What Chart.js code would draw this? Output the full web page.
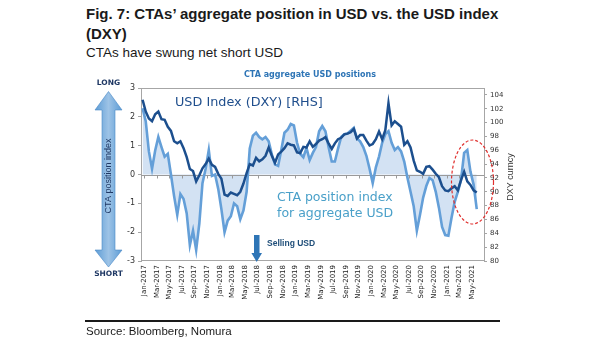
<!DOCTYPE html>
<html>
<head>
<meta charset="utf-8">
<script src="https://cdn.jsdelivr.net/npm/chart.js@4.4.0/dist/chart.umd.min.js"></script>
<style>
  body { margin: 0; background: #fff; width: 605px; height: 341px; overflow: hidden; position: relative; font-family: "Liberation Sans", Arial, sans-serif; color: #1a1a1a; }
  #myChart { position: absolute; left: 0; top: 0; }
  .fig-title { position: absolute; left: 86px; top: 4px; font-weight: bold; font-size: 15px; line-height: 20px; }
  .fig-sub { position: absolute; left: 86px; top: 45px; font-size: 13.5px; }
  .rule { position: absolute; left: 85px; top: 320px; width: 415px; height: 2px; background: #1a1a1a; }
  .source { position: absolute; left: 86px; top: 325px; font-size: 11.5px; }
</style>
</head>
<body>
<div class="fig-title">Fig. 7: CTAs’ aggregate position in USD vs. the USD index<br>(DXY)</div>
<div class="fig-sub">CTAs have swung net short USD</div>
<canvas id="myChart" width="605" height="341"></canvas>
<div class="rule"></div>
<div class="source">Source: Bloomberg, Nomura</div>
<script>
// x = months since Jan-2017, one point every half month
const startMonth = -0.25;
const stepMonth = 0.5;

// CTA position index for aggregate USD (left axis)
const ctaPos = [
  2.3, 1.85, 0.8, 0.2, 0.83, 1.3, 0.95, 0.62, 0.72, 0.0,
  -0.75, -1.4, -0.68, -0.85, -1.35, -2.45, -1.95, -2.62, -1.7, -0.3,
  0.2, 0.85, -0.05, 0.0, -0.5, -1.2, -2.0, -1.6, -1.45, -1.0,
  -1.1, -1.55, -1.25, -0.6, 0.9, 1.35, 1.45, 1.3, 1.22, 1.3,
  1.15, 0.7, 0.35, 0.3, 0.85, 1.45, 1.55, 1.75, 1.7, 1.1,
  0.72, 0.6, 0.92, 0.5, 0.75, 0.95, 1.5, 1.68, 1.5, 0.95,
  0.45, 0.45, 0.9, 1.3, 1.4, 1.42, 1.52, 1.62, 1.25, 1.15,
  0.95, 0.65, 0.2, -0.3, 0.25, 0.62, 1.1, 1.4, 1.5, 1.1,
  0.85, 0.95, 0.8, 0.45, -0.1, -0.6, -1.1, -1.95, -1.4, -0.8,
  -0.4, -0.12, -0.2, -0.6, -1.15, -1.82, -2.1, -2.12, -1.5, -0.95,
  -0.6, -0.2, 0.75, 0.85, 0.1, -0.35, -1.2
];

// USD index DXY (right axis)
const dxy = [
  103.3, 101.6, 100.6, 100.2, 101.2, 101.6, 100.5, 100.4, 99.4, 98.8,
  97.3, 97.0, 97.3, 96.3, 95.0, 93.3, 93.0, 91.5, 92.4, 93.4,
  94.0, 94.8, 93.9, 93.6, 92.6, 91.9, 89.6, 89.4, 89.9, 89.7,
  89.5, 90.0, 91.2, 92.7, 94.0, 93.8, 94.9, 94.4, 94.7, 95.2,
  96.4, 95.2, 94.2, 95.4, 95.8, 96.3, 97.0, 96.8, 96.7, 95.7,
  95.6, 96.5, 96.4, 97.3, 96.5, 96.9, 97.4, 97.6, 97.9, 97.0,
  96.2, 97.0, 97.6, 97.8, 98.3, 98.4, 98.6, 99.1, 97.7, 98.2,
  98.2, 97.4, 96.7, 96.9, 97.6, 98.7, 97.6, 98.9, 102.8, 99.6,
  100.2, 99.8, 99.4, 96.8, 97.3, 96.4, 94.5, 93.1, 92.9, 92.6,
  93.6, 93.7, 93.2, 92.6, 92.1, 90.8, 90.2, 90.1, 90.5, 90.8,
  90.2, 91.7, 92.9, 91.5, 91.0, 90.2, 89.9
];

const tickMonths = [0, 2, 4, 6, 8, 10, 12, 14, 16, 18, 20, 22, 24, 26, 28, 30, 32, 34, 36, 38, 40, 42, 44, 46, 48, 50, 52];
const tickLabels = [
  "Jan-2017", "Mar-2017", "May-2017", "Jul-2017", "Sep-2017", "Nov-2017",
  "Jan-2018", "Mar-2018", "May-2018", "Jul-2018", "Sep-2018", "Nov-2018",
  "Jan-2019", "Mar-2019", "May-2019", "Jul-2019", "Sep-2019", "Nov-2019",
  "Jan-2020", "Mar-2020", "May-2020", "Jul-2020", "Sep-2020", "Nov-2020",
  "Jan-2021", "Mar-2021", "May-2021"
];
const leftTicks = [-3, -2, -1, 0, 1, 2, 3];
const rightTicks = [80, 82, 84, 86, 88, 90, 92, 94, 96, 98, 100, 102, 104];

const months = ctaPos.map((v, i) => startMonth + i * stepMonth);

// extra drawing: plot box, zero line, arrows, notes
const decor = {
  id: "decor",
  beforeDatasetsDraw(chart) {
    const ctx = chart.ctx;
    const a = chart.chartArea;
    ctx.save();
    ctx.strokeStyle = "#a6a6a6";
    ctx.lineWidth = 1;
    ctx.beginPath();
    ctx.moveTo(a.left, a.top + 0.5);
    ctx.lineTo(a.right, a.top + 0.5);
    ctx.moveTo(a.left, a.bottom - 0.5);
    ctx.lineTo(a.right, a.bottom - 0.5);
    ctx.stroke();
    ctx.restore();
  },
  beforeDatasetDraw(chart, args) {
    if (args.index !== 1) return;
    // zero line goes over the fill, under the lines
    const ctx = chart.ctx;
    const a = chart.chartArea;
    const y0 = Math.round(chart.scales.y.getPixelForValue(0)) + 0.5;
    ctx.save();
    ctx.strokeStyle = "#9a9a9a";
    ctx.lineWidth = 1;
    ctx.beginPath();
    ctx.moveTo(a.left, y0);
    ctx.lineTo(a.right, y0);
    tickMonths.forEach((m) => {
      const x = Math.round(chart.scales.x.getPixelForValue(m)) + 0.5;
      ctx.moveTo(x, y0);
      ctx.lineTo(x, y0 + 3);
    });
    ctx.stroke();
    ctx.restore();
  },
  afterDraw(chart) {
    const ctx = chart.ctx;
    ctx.save();

    // chart title
    ctx.fillStyle = "#2e75b6";
    ctx.font = "bold 8px 'DejaVu Sans'";
    ctx.textAlign = "center";
    ctx.textBaseline = "middle";
    ctx.fillText("CTA aggregate USD positions", 310, 75);

    // LONG / SHORT arrow on the left
    const cx = 108.5;
    const g = ctx.createLinearGradient(cx - 14, 0, cx + 14, 0);
    g.addColorStop(0, "#5b9bd5");
    g.addColorStop(0.5, "#9dc3e6");
    g.addColorStop(1, "#5b9bd5");
    ctx.fillStyle = g;
    ctx.beginPath();
    ctx.moveTo(cx, 91.5);
    ctx.lineTo(cx + 13.5, 110);
    ctx.lineTo(cx + 6.5, 110);
    ctx.lineTo(cx + 6.5, 250);
    ctx.lineTo(cx + 13.5, 250);
    ctx.lineTo(cx, 267);
    ctx.lineTo(cx - 13.5, 250);
    ctx.lineTo(cx - 6.5, 250);
    ctx.lineTo(cx - 6.5, 110);
    ctx.lineTo(cx - 13.5, 110);
    ctx.closePath();
    ctx.fill();
    ctx.strokeStyle = "#4a89c8";
    ctx.lineWidth = 0.6;
    ctx.stroke();

    ctx.fillStyle = "#1f3864";
    ctx.font = "bold 7.5px 'DejaVu Sans'";
    ctx.fillText("LONG", cx, 83);
    ctx.fillText("SHORT", cx, 274);

    ctx.save();
    ctx.translate(cx, 176);
    ctx.rotate(-Math.PI / 2);
    ctx.font = "9px 'Liberation Sans'";
    ctx.fillText("CTA position index", 0, 0);
    ctx.restore();

    // right axis title
    ctx.save();
    ctx.translate(511, 177);
    ctx.rotate(-Math.PI / 2);
    ctx.fillStyle = "#333";
    ctx.font = "9px 'Liberation Sans'";
    ctx.fillText("DXY curncy", 0, 0);
    ctx.restore();

    // series notes
    ctx.textAlign = "left";
    ctx.textBaseline = "alphabetic";
    ctx.fillStyle = "#1f4e8c";
    ctx.font = "12.8px 'DejaVu Sans'";
    ctx.fillText("USD Index (DXY) [RHS]", 175, 106);
    ctx.fillStyle = "#4aa0c9";
    ctx.font = "12.5px 'DejaVu Sans'";
    ctx.fillText("CTA position index", 277, 201);
    ctx.fillText("for aggregate USD", 277, 217);

    // selling USD arrow
    ctx.fillStyle = "#2e75b6";
    ctx.beginPath();
    ctx.moveTo(254, 235);
    ctx.lineTo(259.5, 235);
    ctx.lineTo(259.5, 253);
    ctx.lineTo(262, 253);
    ctx.lineTo(256.7, 262);
    ctx.lineTo(251.4, 253);
    ctx.lineTo(254, 253);
    ctx.closePath();
    ctx.fill();
    ctx.fillStyle = "#1f4e79";
    ctx.font = "bold 8.5px 'Liberation Sans'";
    ctx.textBaseline = "middle";
    ctx.fillText("Selling USD", 267, 244);

    // red dashed ellipse
    ctx.strokeStyle = "#e0302e";
    ctx.lineWidth = 1.2;
    ctx.setLineDash([3, 2]);
    ctx.beginPath();
    ctx.ellipse(472.5, 182, 21, 42, 0, 0, Math.PI * 2);
    ctx.stroke();
    ctx.restore();
  }
};

const config = {
  type: "line",
  data: {
    datasets: [
      {
        label: "USD Index (DXY) [RHS]",
        data: months.map((m, i) => ({ x: m, y: dxy[i] })),
        yAxisID: "y2",
        borderColor: "#1c4f8e",
        borderWidth: 2.5,
        pointRadius: 0,
        tension: 0,
        fill: false,
        order: 0,
      },
      {
        label: "CTA position index for aggregate USD",
        data: months.map((m, i) => ({ x: m, y: ctaPos[i] })),
        yAxisID: "y",
        borderColor: "#649fd8",
        borderWidth: 2.6,
        backgroundColor: "#d3e2f3",
        pointRadius: 0,
        tension: 0,
        fill: { value: 0 },
        order: 1,
      },
    ],
  },
  options: {
    responsive: false,
    animation: false,
    devicePixelRatio: 1,
    layout: { padding: { left: 115, right: 91, top: 88, bottom: 40 } },
    plugins: { legend: { display: false }, tooltip: { enabled: false } },
    scales: {
      x: {
        type: "linear",
        min: -0.5,
        max: 53.9,
        grid: { display: false, drawTicks: false, tickLength: 0 },
        border: { display: false },
        afterBuildTicks: (s) => { s.ticks = tickMonths.map((v) => ({ value: v })); },
        afterFit: (s) => { s.height = 40; },
        ticks: {
          autoSkip: false,
          minRotation: 90,
          maxRotation: 90,
          padding: 4,
          color: "#222",
          font: { family: "DejaVu Sans", size: 7 },
          callback: (v) => tickLabels[tickMonths.indexOf(v)],
        },
      },
      y: {
        position: "left",
        min: -3,
        max: 3,
        afterBuildTicks: (s) => { s.ticks = leftTicks.map((v) => ({ value: v })); },
        afterFit: (s) => { s.width = 26; },
        grid: { drawOnChartArea: false, tickLength: 3, color: "#a6a6a6" },
        border: { color: "#a6a6a6" },
        ticks: { padding: 3, color: "#333", font: { family: "DejaVu Sans", size: 8 } },
      },
      y2: {
        position: "right",
        min: 80,
        max: 105,
        afterBuildTicks: (s) => { s.ticks = rightTicks.map((v) => ({ value: v })); },
        afterFit: (s) => { s.width = 30; },
        grid: { drawOnChartArea: false, tickLength: 3, color: "#a6a6a6" },
        border: { color: "#a6a6a6" },
        ticks: { padding: 3, color: "#333", font: { family: "DejaVu Sans", size: 7 } },
      },
    },
  },
  plugins: [decor],
};

new Chart(document.getElementById("myChart"), config);
</script>
</body>
</html>
